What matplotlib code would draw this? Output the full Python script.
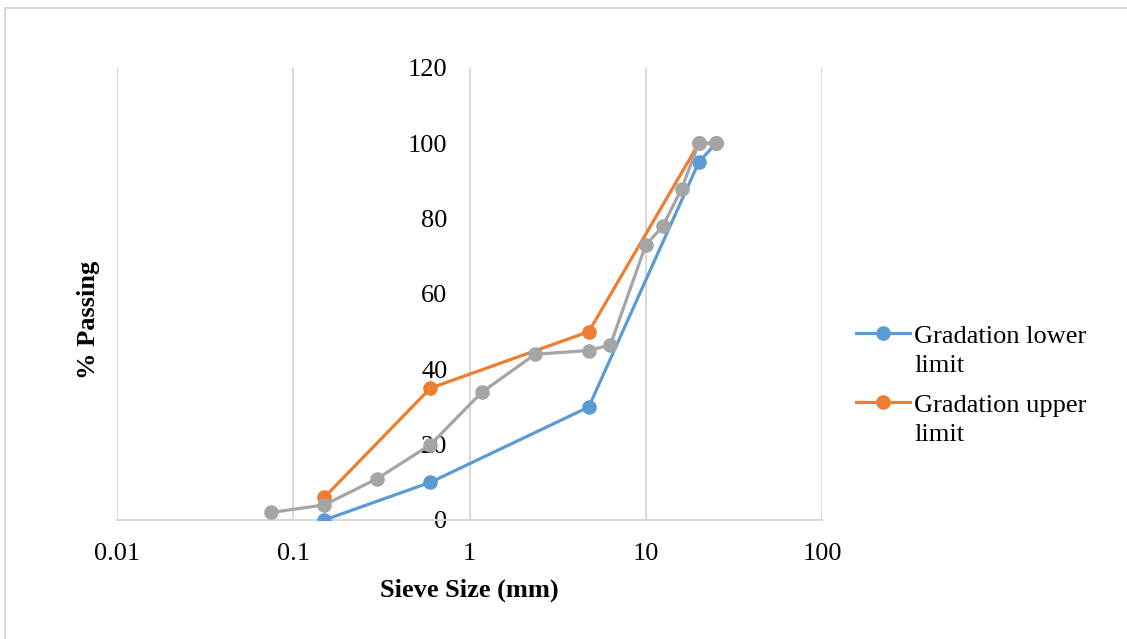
import numpy as np
import matplotlib
matplotlib.use("Agg")
import matplotlib.pyplot as plt
from matplotlib.patches import Rectangle
from matplotlib.legend_handler import HandlerLine2D

# Sieve sizes (mm) and percent passing
lower_sizes = [0.15, 0.6, 4.75, 20, 25]
lower_pass = [0, 10, 30, 95, 100]

upper_sizes = [0.15, 0.6, 4.75, 20, 25]
upper_pass = [6, 35, 50, 100, 100]

mix_sizes = [0.075, 0.15, 0.3, 0.6, 1.18, 2.36, 4.75, 6.3, 10, 12.5, 16, 20, 25]
mix_pass = [2, 4, 11, 20, 34, 44, 45, 46.5, 73, 78, 88, 100, 100]

x_ticks = [0.01, 0.1, 1, 10, 100]
x_tick_labels = ["0.01", "0.1", "1", "10", "100"]
y_ticks = [0, 20, 40, 60, 80, 100, 120]

series_labels = ["Gradation lower\nlimit", "Gradation upper\nlimit"]

plt.rcParams["font.family"] = ["Liberation Serif", "DejaVu Serif"]
FS = 19


class FirstLineHandler(HandlerLine2D):
    """Line handle aligned with the first line of a wrapped label."""

    def __init__(self, shift, **kw):
        super().__init__(**kw)
        self.shift = shift

    def create_artists(self, legend, orig_handle, xdescent, ydescent,
                       width, height, fontsize, trans):
        artists = super().create_artists(legend, orig_handle, xdescent,
                                         ydescent, width, height, fontsize, trans)
        for a in artists:
            a.set_ydata(np.asarray(a.get_ydata(), dtype=float) + self.shift)
        return artists


W, H, DPI = 1127, 639, 100
fig = plt.figure(figsize=(W / DPI, H / DPI), dpi=DPI)
ax = fig.add_axes([117 / W, 1 - 520 / H, 705 / W, 452 / H])

grid_col = "#d9d9d9"
line_kw = dict(lw=2.3, marker="o", markersize=10.5, markeredgewidth=0)

l1, = ax.plot(lower_sizes, lower_pass, color="#5B9BD5", label=series_labels[0], zorder=3, **line_kw)
l2, = ax.plot(upper_sizes, upper_pass, color="#ED7D31", label=series_labels[1], zorder=4, **line_kw)
ax.plot(mix_sizes, mix_pass, color="#A5A5A5", zorder=5, **line_kw)

ax.set_xscale("log")
ax.set_xlim(0.01, 100)
ax.set_ylim(0, 120)
ax.set_xticks(x_ticks)
ax.set_xticklabels(x_tick_labels)
ax.xaxis.set_minor_locator(matplotlib.ticker.NullLocator())
ax.set_yticks(y_ticks)

# vertical gridlines at each decade, axis line along zero
ax.grid(axis="x", which="major", color=grid_col, lw=1.5)
ax.grid(axis="y", visible=False)
for s in ["top", "right"]:
    ax.spines[s].set_visible(False)
ax.spines["bottom"].set_color(grid_col)
ax.spines["bottom"].set_linewidth(1.5)
ax.spines["left"].set_position(("data", 1))
ax.spines["left"].set_visible(False)
ax.set_axisbelow(True)

ax.tick_params(axis="both", length=0, labelsize=FS, colors="black")
ax.tick_params(axis="x", pad=16.3)
ax.tick_params(axis="y", pad=16)

ax.set_xlabel("Sieve Size (mm)", fontsize=FS, fontweight="bold")
ax.xaxis.set_label_coords(0.5, -0.155)
ax.xaxis.label.set_va("center")
ax.set_ylabel("% Passing", fontsize=FS, fontweight="bold")
ax.yaxis.set_label_coords(-0.041, 0.442)
ax.yaxis.label.set_va("center")

hm = {l1: FirstLineHandler(12.5), l2: FirstLineHandler(12.5)}
leg = ax.legend(handles=[l1, l2], handler_map=hm, loc="upper left",
                bbox_to_anchor=(856 / W, 1 - 326 / H),
                bbox_transform=fig.transFigure, frameon=False, fontsize=FS,
                handlelength=2.05, handletextpad=0.15, labelspacing=0.69,
                borderaxespad=0, borderpad=0)
for t in leg.get_texts():
    t.set_linespacing(1.4)

# light chart-area border
fig.add_artist(Rectangle((4.5 / W, -0.05), 1.1, 1.05 - 7.5 / H,
                         transform=fig.transFigure, fill=False,
                         edgecolor=grid_col, lw=1.5))

fig.savefig("out.png", dpi=DPI)
